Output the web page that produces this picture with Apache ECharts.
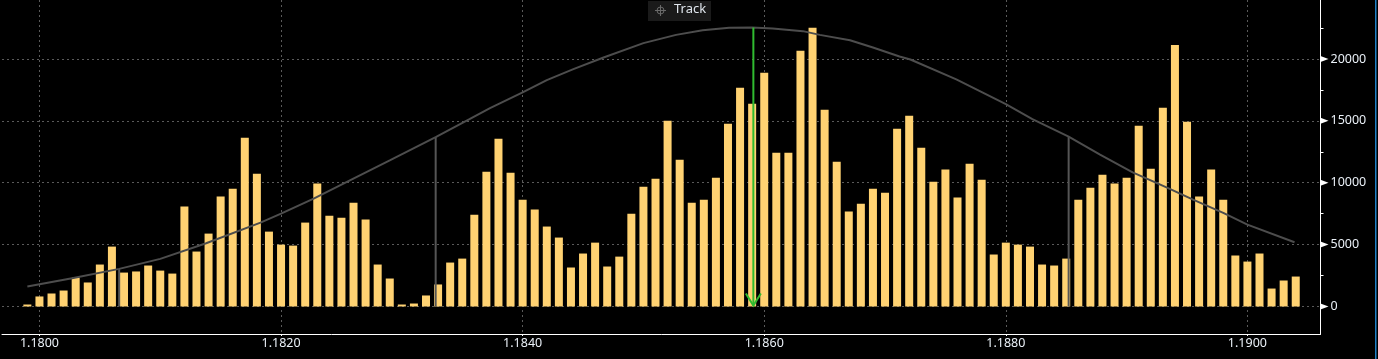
<!DOCTYPE html>
<html>
<head>
<meta charset="utf-8">
<title>Track</title>
<style>
  html, body { margin: 0; padding: 0; background: #000; }
  #chart { width: 1378px; height: 359px; }
</style>
</head>
<body>
<div id="chart"></div>
<script src="https://cdn.jsdelivr.net/npm/echarts@6/dist/echarts.min.js"></script>
<script>
// bars: one per pip
const barPrices = [
  1.1799, 1.1800, 1.1801, 1.1802, 1.1803, 1.1804, 1.1805, 1.1806, 1.1807, 1.1808,
  1.1809, 1.1810, 1.1811, 1.1812, 1.1813, 1.1814, 1.1815, 1.1816, 1.1817, 1.1818,
  1.1819, 1.1820, 1.1821, 1.1822, 1.1823, 1.1824, 1.1825, 1.1826, 1.1827, 1.1828,
  1.1829, 1.1830, 1.1831, 1.1832, 1.1833, 1.1834, 1.1835, 1.1836, 1.1837, 1.1838,
  1.1839, 1.1840, 1.1841, 1.1842, 1.1843, 1.1844, 1.1845, 1.1846, 1.1847, 1.1848,
  1.1849, 1.1850, 1.1851, 1.1852, 1.1853, 1.1854, 1.1855, 1.1856, 1.1857, 1.1858,
  1.1859, 1.1860, 1.1861, 1.1862, 1.1863, 1.1864, 1.1865, 1.1866, 1.1867, 1.1868,
  1.1869, 1.1870, 1.1871, 1.1872, 1.1873, 1.1874, 1.1875, 1.1876, 1.1877, 1.1878,
  1.1879, 1.1880, 1.1881, 1.1882, 1.1883, 1.1884, 1.1885, 1.1886, 1.1887, 1.1888,
  1.1889, 1.1890, 1.1891, 1.1892, 1.1893, 1.1894, 1.1895, 1.1896, 1.1897, 1.1898,
  1.1899, 1.1900, 1.1901, 1.1902, 1.1903, 1.1904
]
const barVolumes = [
  160, 810, 1050, 1290, 2340, 1940, 3390, 4840, 2740, 2830,
  3310, 2900, 2660, 8070, 4440, 5890, 8880, 9520, 13640, 10730,
  6050, 5000, 4920, 6780, 9930, 7340, 7180, 8390, 7020, 3390,
  2260, 160, 240, 890, 1780, 3550, 3870, 7420, 10890, 13560,
  10810, 8630, 7830, 6460, 5570, 3150, 4280, 5160, 3230, 4030,
  7500, 9680, 10330, 15010, 11860, 8390, 8630, 10410, 14770, 17670,
  16380, 18880, 12430, 12430, 20660, 22520, 15900, 11700, 7670, 8310,
  9520, 9200, 14370, 15410, 12830, 10090, 11060, 8800, 11540, 10250,
  4200, 5160, 5000, 4840, 3390, 3310, 3870, 8630, 9600, 10650,
  9930, 10410, 14610, 11140, 16060, 21140, 14930, 8880, 11060, 8630,
  4120, 3630, 4280, 1450, 2100, 2420
]

// gray distribution curve
const curvePrices = [
  1.17990, 1.18027, 1.18066, 1.18100, 1.18138, 1.18183, 1.18200, 1.18227, 1.18257, 1.18290,
  1.18328, 1.18356, 1.18373, 1.18400, 1.18420, 1.18442, 1.18467, 1.18500, 1.18527, 1.18549,
  1.18571, 1.18590, 1.18607, 1.18632, 1.18646, 1.18671, 1.18690, 1.18712, 1.18721, 1.18759,
  1.18800, 1.18822, 1.18852, 1.18878, 1.18905, 1.18933, 1.18955, 1.18980, 1.19000, 1.19039
]
const curveValues = [
  1610, 2290, 3040, 3850, 5110, 6780, 7500, 8720, 10190, 11810,
  13690, 15140, 16030, 17300, 18290, 19180, 20120, 21280, 21950, 22330,
  22520, 22540, 22460, 22250, 21950, 21520, 20930, 20200, 19960, 18350,
  16350, 15140, 13720, 12270, 10840, 9630, 8630, 7560, 6620, 5190
]

// vertical markers
const bandPrices = [1.18066, 1.18328, 1.18852]
const bandValues = [3040, 13700, 13720]
const arrowPrice = 1.18591
const arrowValue = 22540

const xTicks = [1.18, 1.182, 1.184, 1.186, 1.188, 1.19]
const yTicks = [0, 5000, 10000, 15000, 20000]
const yMinorTicks = [0, 2500, 5000, 7500, 10000, 12500, 15000, 17500, 20000, 22500]

const xMin = 1.17969
const xMax = 1.190605
const yMin = -2223
const yMax = 24767

const labelFont = 'Noto Sans'
const labelColor = '#eaf0f7'

const chart = echarts.init(document.getElementById('chart'), null, { renderer: 'canvas' })

chart.setOption({
  animation: false,
  backgroundColor: '#000',
  grid: { left: 2, right: 57.5, top: 0, bottom: 25, containLabel: false },
  xAxis: {
    type: 'value',
    min: xMin,
    max: xMax,
    axisLine: { onZero: false, lineStyle: { color: '#fff', width: 1 } },
    axisTick: { show: true, length: 2, customValues: xTicks, lineStyle: { color: '#fff' } },
    axisLabel: {
      customValues: xTicks,
      formatter: v => v.toFixed(4),
      color: labelColor,
      fontFamily: labelFont,
      fontSize: 12.5,
      margin: 3
    },
    splitLine: { show: true, lineStyle: { color: '#5a5a5a', type: [2, 3], width: 1 } }
  },
  yAxis: [
    {
      type: 'value',
      position: 'right',
      min: yMin,
      max: yMax,
      axisLine: { show: true, onZero: false, lineStyle: { color: '#fff', width: 1 } },
      axisTick: { show: false, customValues: yTicks },
      axisLabel: {
        customValues: yTicks,
        formatter: v => String(v),
        color: labelColor,
        fontFamily: labelFont,
        fontSize: 12.5,
        margin: 10
      },
      splitLine: { show: true, lineStyle: { color: '#5a5a5a', type: [2, 3], width: 1 } }
    },
    {
      type: 'value',
      position: 'right',
      min: yMin,
      max: yMax,
      axisLine: { show: false },
      axisTick: { show: true, length: 3, customValues: yMinorTicks, lineStyle: { color: '#fff' } },
      axisLabel: { show: false },
      splitLine: { show: false }
    }
  ],
  series: [
    {
      name: 'Volume',
      type: 'bar',
      barWidth: 8,
      itemStyle: { color: '#ffd272' },
      data: barPrices.map((p, i) => [p, barVolumes[i]]),
      z: 2
    },
    {
      name: 'Bands',
      type: 'custom',
      data: bandPrices.map((p, i) => [p, bandValues[i]]),
      renderItem: (params, api) => {
        const top = api.coord([api.value(0), api.value(1)])
        const bottom = api.coord([api.value(0), 0])
        return {
          type: 'line',
          shape: { x1: top[0], y1: top[1], x2: bottom[0], y2: bottom[1] },
          style: { stroke: '#555', lineWidth: 2 }
        }
      },
      z: 3
    },
    {
      name: 'Curve',
      type: 'line',
      showSymbol: false,
      smooth: false,
      lineStyle: { color: '#4d4d4d', width: 2 },
      data: curvePrices.map((p, i) => [p, curveValues[i]]),
      z: 4
    },
    {
      name: 'Arrow',
      type: 'custom',
      data: [[arrowPrice, arrowValue]],
      renderItem: (params, api) => {
        const top = api.coord([api.value(0), api.value(1)])
        const tip = api.coord([api.value(0), 0])
        return {
          type: 'group',
          children: [
            {
              type: 'line',
              shape: { x1: top[0], y1: top[1], x2: tip[0], y2: tip[1] - 1 },
              style: { stroke: '#30bb30', lineWidth: 2 }
            },
            {
              type: 'polyline',
              shape: { points: [[tip[0] - 7.5, tip[1] - 13], [tip[0], tip[1] - 1], [tip[0] + 7.5, tip[1] - 13]] },
              style: { stroke: '#30bb30', lineWidth: 2, fill: 'none' }
            }
          ]
        }
      },
      z: 5
    },
    {
      // triangle markers on the right axis
      name: 'Major ticks',
      type: 'custom',
      clip: false,
      data: yTicks.map(v => [xMax, v]),
      renderItem: (params, api) => {
        const c = api.coord([api.value(0), api.value(1)])
        return {
          type: 'polygon',
          shape: { points: [[c[0], c[1] - 3], [c[0] + 8, c[1]], [c[0], c[1] + 3]] },
          style: { fill: '#fff' }
        }
      },
      z: 6
    }
  ],
  graphic: [
    { type: 'rect', shape: { x: 1375, y: 0, width: 1.5, height: 359 }, style: { fill: '#1f7fc4' }, z: 10 },
    { type: 'rect', shape: { x: 648, y: 1, width: 63, height: 20 }, style: { fill: '#1a1a1a' }, z: 10 },
    { type: 'circle', shape: { cx: 660.5, cy: 10.5, r: 3.5 }, style: { stroke: '#6a6a6a', fill: 'none', lineWidth: 1 }, z: 11 },
    { type: 'line', shape: { x1: 655, y1: 10.5, x2: 666, y2: 10.5 }, style: { stroke: '#6a6a6a', lineWidth: 1 }, z: 11 },
    { type: 'line', shape: { x1: 660.5, y1: 5, x2: 660.5, y2: 16 }, style: { stroke: '#6a6a6a', lineWidth: 1 }, z: 11 },
    {
      type: 'text',
      x: 674,
      y: 3,
      style: { text: 'Track', fill: '#dfe5ec', font: '13px "Noto Sans"' },
      z: 11
    }
  ]
})

window.addEventListener('resize', () => chart.resize())
</script>
</body>
</html>
